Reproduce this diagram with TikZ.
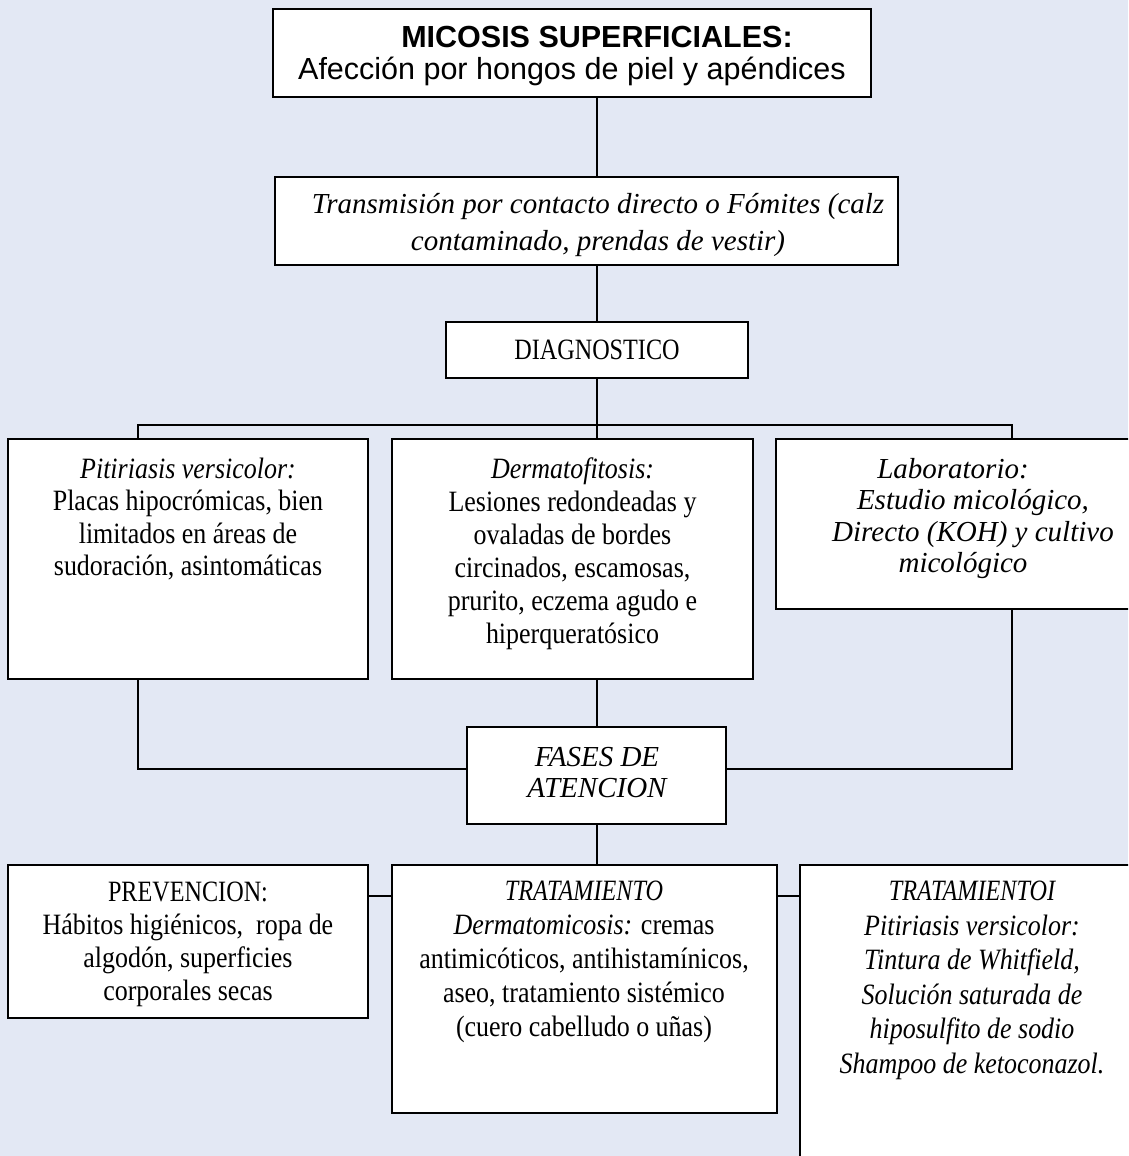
\documentclass[tikz,border=0pt]{standalone}
\usepackage{fontspec}
\setmainfont{Liberation Serif}
\setsansfont{Liberation Sans}
\newfontfamily\narrowserif{Liberation Serif}[FakeStretch=0.88]
\newfontfamily\capserif{Liberation Serif}[FakeStretch=0.82]
\usetikzlibrary{fit}
\definecolor{pagebg}{RGB}{227,232,244}

\tikzset{
  box/.style={draw=black, line width=1.8pt, fill=white, inner sep=0pt},
  link/.style={draw=black, line width=1.8pt},
  txt/.style={align=center, inner sep=0pt, anchor=north},
}

\begin{document}
\begin{tikzpicture}[x=1pt,y=-1pt]
\useasboundingbox (0,0) rectangle (1128,1156);
\clip (0,0) rectangle (1128,1156);
\fill[pagebg] (0,0) rectangle (1128,1156);

% reference points for the connector lines
\coordinate (axis) at (597,0);
\coordinate (barL) at (138,425);
\coordinate (barR) at (1012,425);
\coordinate (lowL) at (138,769);
\coordinate (lowR) at (1012,769);
\coordinate (sideY) at (0,896);

% boxes
\node[box, fit={(273,9)(871,97)}]     (top)   {};
\node[box, fit={(275,177)(898,265)}]  (trans) {};
\node[box, fit={(446,322)(748,378)}]  (diag)  {};
\node[box, fit={(8,439)(368,679)}]    (pv)    {};
\node[box, fit={(392,439)(753,679)}]  (derm)  {};
\node[box, fit={(776,439)(1140,609)}] (lab)   {};
\node[box, fit={(467,727)(726,824)}]  (fases) {};
\node[box, fit={(8,865)(368,1018)}]   (prev)  {};
\node[box, fit={(392,865)(777,1113)}] (trat)  {};
\node[box, fit={(800,865)(1150,1180)}] (tratp) {};

% connectors
\draw[link] (top.south -| axis) -- (trans.north -| axis);
\draw[link] (trans.south -| axis) -- (diag.north -| axis);
\draw[link] (diag.south -| axis) -- (derm.north -| axis);
\draw[link] (pv.north -| barL) -- (barL) -- (barR) -- (lab.north -| barR);
\draw[link] (pv.south -| lowL) -- (lowL) -- (fases.west |- lowL);
\draw[link] (derm.south -| axis) -- (fases.north -| axis);
\draw[link] (lab.south -| lowR) -- (lowR) -- (fases.east |- lowR);
\draw[link] (fases.south -| axis) -- (trat.north -| axis);
\draw[link] (prev.east |- sideY) -- (trat.west |- sideY);
\draw[link] (trat.east |- sideY) -- (tratp.west |- sideY);

% texts
\node[font=\sffamily\bfseries\fontsize{30.5}{34}\selectfont, inner sep=0pt] (topA) at (597,37) {MICOSIS SUPERFICIALES:};
\node[font=\sffamily\fontsize{30.5}{34}\selectfont, inner sep=0pt, anchor=base] (topB) at (572,80) {Afección por hongos de piel y apéndices};

\node[txt, font=\rmfamily\itshape\fontsize{29}{37}\selectfont] (transT) at (598,193)
  {Transmisión por contacto directo o Fómites (calz\\contaminado, prendas de vestir)};

\node[txt, anchor=center, font=\capserif\fontsize{29.5}{33}\selectfont] (diagT) at (597,350) {DIAGNOSTICO};

\node[txt, font=\narrowserif\fontsize{29.5}{32.3}\selectfont] (pvT) at (188,458)
  {{\itshape Pitiriasis versicolor:}\\Placas hipocrómicas, bien\\limitados en áreas de\\sudoración, asintomáticas};

\node[txt, font=\narrowserif\fontsize{29.5}{33}\selectfont] (dermT) at (572.5,458)
  {{\itshape Dermatofitosis:}\\Lesiones redondeadas y\\ovaladas de bordes\\circinados, escamosas,\\prurito, eczema agudo e\\hiperqueratósico};

\node[txt, font=\rmfamily\itshape\fontsize{29}{31.5}\selectfont] (labT) at (973,458)
  {Laboratorio:\hspace*{40pt}\\Estudio micológico,\\Directo (KOH) y cultivo\\micológico\hspace*{20pt}};

\node[txt, font=\rmfamily\itshape\fontsize{29}{31}\selectfont] (fasesT) at (597,747)
  {FASES DE\\ATENCION};

\node[txt, font=\narrowserif\fontsize{29.5}{33}\selectfont] (prevT) at (188,882)
  {{\capserif PREVENCION:}\\Hábitos higiénicos,\ \ ropa de\\algodón, superficies\\corporales secas};

\node[txt, font=\narrowserif\fontsize{29.5}{34}\selectfont] (tratT) at (584,881)
  {{\capserif\itshape TRATAMIENTO}\\{\itshape Dermatomicosis:} cremas\\antimicóticos, antihistamínicos,\\aseo, tratamiento sistémico\\(cuero cabelludo o uñas)};

\node[txt, font=\narrowserif\itshape\fontsize{29.5}{34.5}\selectfont] (tratpT) at (972,881)
  {{\capserif\itshape TRATAMIENTOI}\\Pitiriasis versicolor:\\Tintura de Whitfield,\\Solución saturada de\\hiposulfito de sodio\\Shampoo de ketoconazol.};
\end{tikzpicture}
\end{document}
